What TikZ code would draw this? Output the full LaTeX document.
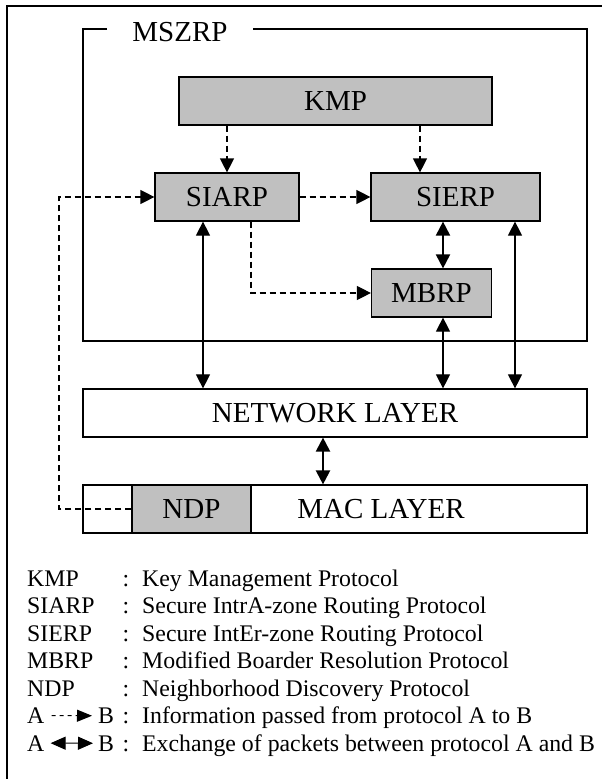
\documentclass[tikz,border=0pt]{standalone}
\usepackage{fontspec}
\setmainfont{Liberation Serif}
\usetikzlibrary{arrows.meta}
\definecolor{protogray}{HTML}{C0C0C0}
\newcommand{\protofont}{\fontsize{29}{33}\selectfont}
\newcommand{\legfont}{\fontsize{23.8}{27}\selectfont}

\begin{document}
\begin{tikzpicture}[x=1pt,y=-1pt,
	proto/.style={draw,line width=1.2pt,fill=protogray,inner sep=0pt,minimum height=48pt,font=\protofont},
	layer/.style={draw,line width=1.2pt,fill=white,inner sep=0pt,minimum height=48pt,font=\protofont},
	info/.style={line width=1.2pt,dash pattern=on 6pt off 4pt,-{Triangle[length=14pt,width=14pt]}},
	xch/.style={line width=1.1pt,{Triangle[length=14pt,width=14pt]}-{Triangle[length=14pt,width=14pt]}},
	legtext/.style={inner sep=0pt,font=\legfont}]
	\useasboundingbox (0,0) rectangle (602,779);
	\draw[line width=1.6pt] (7,779)--(7,6)--(602,6);
	
	%MSZRP frame
	\node[inner sep=0pt,font=\protofont] (mszrp) at (180,32) {MSZRP};
	\coordinate (gapl) at (107,29);
	\coordinate (gapr) at (253,29);
	\draw[line width=1.3pt] (gapl) -| (83,341) -| (587,29) -- (gapr);
	
	%protocol boxes
	\node[proto,minimum width=313pt] (kmp) at (335.5,101) {KMP};
	\node[proto,minimum width=144pt] (siarp) at (227,197) {SIARP};
	\node[proto,minimum width=169pt] (sierp) at (455.5,197) {SIERP};
	\node[proto,minimum width=120pt] (mbrp) at (431.5,293) {MBRP};
	
	%layers
	\node[layer,minimum width=504pt] (net) at (335,413) {NETWORK LAYER};
	\node[layer,minimum width=504pt] (mac) at (335,509) {};
	\node[proto,minimum width=119pt] (ndp) at (191.5,509) {NDP};
	\node[inner sep=0pt,font=\protofont] (mactext) at (381,509) {MAC LAYER};
	
	%tracks of the vertical arrows
	\coordinate (t0) at (59,0);
	\coordinate (t2) at (420,0);
	\coordinate (t3) at (251,0);
	\coordinate (t4) at (203,0);
	\coordinate (t5) at (443,0);
	\coordinate (t6) at (515,0);
	\coordinate (t7) at (323,0);
	
	%information passed
	\draw[info] (kmp.south -| siarp.north) -- (siarp.north);
	\draw[info] (kmp.south -| t2) -- (sierp.north -| t2);
	\draw[info] (siarp.east) -- (sierp.west);
	\draw[info] (siarp.south -| t3) |- (mbrp.west);
	\draw[info] (ndp.west) -- (ndp.west -| t0) |- (siarp.west);
	
	%exchange of packets
	\draw[xch] (siarp.south -| t4) -- (net.north -| t4);
	\draw[xch,line width=2pt] (sierp.south -| t5) -- (mbrp.north -| t5);
	\draw[xch] (mbrp.south -| t5) -- (net.north -| t5);
	\draw[xch] (sierp.south -| t6) -- (net.north -| t6);
	\draw[xch,line width=2.2pt] (net.south -| t7) -- (mac.north -| t7);
	
	%legend
	\foreach \abbr/\desc [count=\i from 0] in {KMP/Key Management Protocol,SIARP/Secure IntrA-zone Routing Protocol,SIERP/Secure IntEr-zone Routing Protocol,MBRP/Modified Boarder Resolution Protocol,NDP/Neighborhood Discovery Protocol}{
		\node[legtext,anchor=base west] (abbr\i) at (27,{586+27.5*\i}) {\abbr};
		\node[legtext,anchor=base] (colon\i) at (126,{586+27.5*\i}) {:};
		\node[legtext,anchor=base west] (desc\i) at (142,{586+27.5*\i}) {\desc};
	}
	\node[legtext,anchor=base west] (la1) at (27,723.5) {A};
	\node[legtext,anchor=base west] (lb1) at (98,723.5) {B};
	\node[legtext,anchor=base] (colon5) at (126,723.5) {:};
	\node[legtext,anchor=base west] (desc5) at (142,723.5) {Information passed from protocol A to B};
	\draw[line width=1pt,dash pattern=on 4pt off 4pt,-{Triangle[length=15pt,width=12pt]},shorten <=7pt,shorten >=6pt] (la1.east) -- (lb1.west);
	\node[legtext,anchor=base west] (la2) at (27,751) {A};
	\node[legtext,anchor=base west] (lb2) at (98,751) {B};
	\node[legtext,anchor=base] (colon6) at (126,751) {:};
	\node[legtext,anchor=base west] (desc6) at (142,751) {Exchange of packets between protocol A and B};
	\draw[line width=1pt,{Triangle[length=15pt,width=13pt]}-{Triangle[length=15pt,width=13pt]},shorten <=6pt,shorten >=5pt] (la2.east) -- (lb2.west);
\end{tikzpicture}
\end{document}
